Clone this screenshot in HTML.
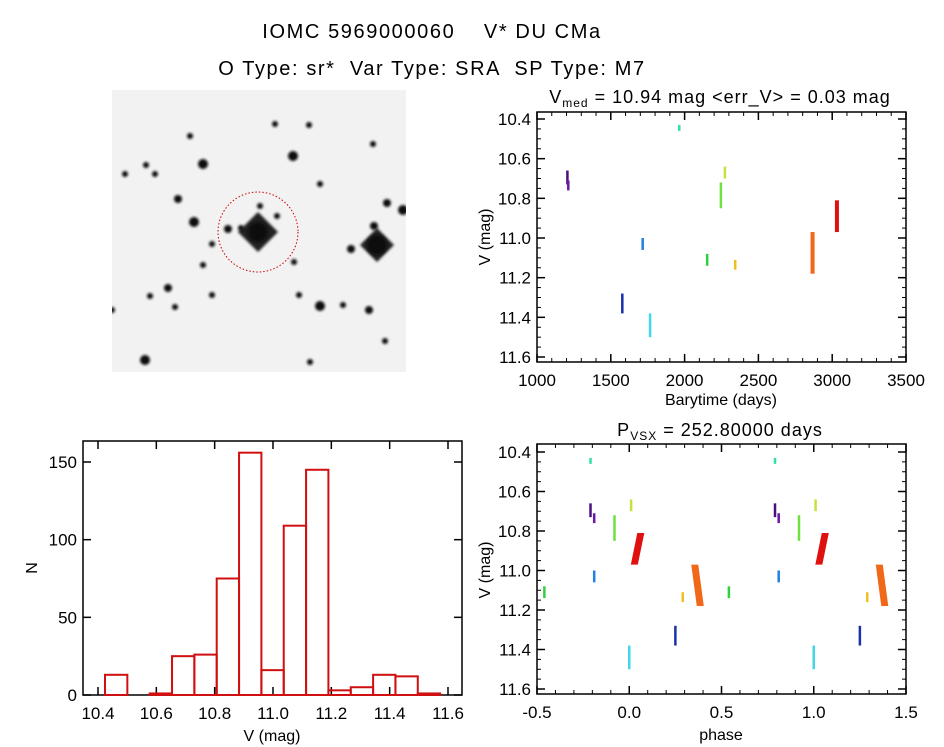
<!DOCTYPE html>
<html><head><meta charset="utf-8"><style>
body{margin:0;background:#fff;}
svg{display:block;font-family:"Liberation Sans",sans-serif;}
</style></head><body>
<svg id="s" width="944" height="747" viewBox="0 0 944 747" xmlns="http://www.w3.org/2000/svg">
<rect width="944" height="747" fill="#fff"/>
<text x="432" y="38" font-size="20" letter-spacing="1.6" text-anchor="middle" style="white-space:pre">IOMC 5969000060    V* DU CMa</text>
<text x="432" y="75" font-size="20" letter-spacing="1.6" text-anchor="middle" style="white-space:pre">O Type: sr*  Var Type: SRA  SP Type: M7</text>
<g id="img"></g>
<g id="lc"></g>
<g id="ph"></g>
<g id="hi"></g>
</svg>
<script>
// ---- data ----
const clusterTimes  = [1206,1212,1964,1716,1578,1766,2153,2246,2273,2343,2867,3032];
const clusterVmin   = [10.66,10.71,10.43,11.00,11.28,11.38,11.08,10.72,10.64,11.11,10.97,10.81];
const clusterVmax   = [10.73,10.76,10.46,11.06,11.38,11.50,11.14,10.85,10.70,11.16,11.18,10.97];
const clusterPhase  = [-0.21,-0.19,-0.21,-0.19,0.25,0.00,0.54,-0.08,0.01,0.29,0.37,0.045];
const clusterDrift  = [0,0,0,0,0,0,0,0,0,0,0.03,-0.035];
const clusterColors = ["#4a1080","#6a18a8","#30e0a8","#2080e0","#1830a8","#40d8e8","#30d040","#70e040","#c8e040","#f0c020","#f06818","#e01010"];
const lcXTicks = [1000,1500,2000,2500,3000,3500];
const vTicks   = [10.4,10.6,10.8,11.0,11.2,11.4,11.6];
const phTicks  = [-0.5,0.0,0.5,1.0,1.5];
const histStart = 10.424, histWidth = 0.0766;
const histCounts = [13,0,1,25,26,75,156,16,109,145,3,5,13,12,1];
const histXTicks = [10.4,10.6,10.8,11.0,11.2,11.4,11.6];
const histYTicks = [0,50,100,150];

const NS="http://www.w3.org/2000/svg";
function el(p,t,a){const e=document.createElementNS(NS,t);for(const k in a)e.setAttribute(k,a[k]);p.appendChild(e);return e;}

function frame(g,x0,y0,x1,y1,xs,ys,xt,yt,xminor,yminor,xfmt,yfmt){
  const f=el(g,'rect',{x:x0,y:y0,width:x1-x0,height:y1-y0,fill:'none',stroke:'#000','stroke-width':1.5});
  
  
  xt.forEach(v=>{const x=xs(v);
    el(g,'line',{x1:x,x2:x,y1:y1,y2:y1-8,stroke:'#000','stroke-width':1.5});
    el(g,'line',{x1:x,x2:x,y1:y0,y2:y0+8,stroke:'#000','stroke-width':1.5});
    const t=el(g,'text',{x:x,y:y1+24,'font-size':17,'text-anchor':'middle'});t.textContent=xfmt(v);
    
    });
  xminor.forEach(v=>{const x=xs(v);
    el(g,'line',{x1:x,x2:x,y1:y1,y2:y1-4,stroke:'#000'});el(g,'line',{x1:x,x2:x,y1:y0,y2:y0+4,stroke:'#000'});});
  yt.forEach(v=>{const y=ys(v);
    el(g,'line',{x1:x0,x2:x0+8,y1:y,y2:y,stroke:'#000','stroke-width':1.5});
    el(g,'line',{x1:x1,x2:x1-8,y1:y,y2:y,stroke:'#000','stroke-width':1.5});
    const t=el(g,'text',{x:x0-6,y:y+6,'font-size':17,'text-anchor':'end'});t.textContent=yfmt(v);
    
    });
  yminor.forEach(v=>{const y=ys(v);
    el(g,'line',{x1:x0,x2:x0+4,y1:y,y2:y,stroke:'#000'});el(g,'line',{x1:x1,x2:x1-4,y1:y,y2:y,stroke:'#000'});});
}
function rng(a,b,s){const r=[];for(let v=a;v<=b+1e-9;v+=s)r.push(+v.toFixed(4));return r;}

// ---- sky image ----
(function(){
  const g=document.getElementById('img');
  const defs=el(g,'defs',{});
  const fl=el(defs,'filter',{id:'bl',x:'-50%',y:'-50%',width:'200%',height:'200%'});
  el(fl,'feGaussianBlur',{stdDeviation:1.2});
  const cp=el(defs,'clipPath',{id:'cp'});el(cp,'rect',{x:112,y:90,width:294,height:282});
  el(g,'rect',{x:112,y:90,width:294,height:282,fill:'#f2f2f2'});
  const gg=el(g,'g',{'clip-path':'url(#cp)'});
  const stars=[[203,164,5],[293,156,5],[228,229,4],[258,232,10],[377,245,10],[194,222,5],[178,199,4],[146,165,3],[155,174,3],[212,244,3],[168,288,4],[150,296,3],[175,307,3],[203,265,3],[260,206,3],[277,216,3],[241,228,3],[294,262,3],[374,226,4],[351,249,4],[320,306,5],[343,305,3],[369,310,4],[387,203,4],[403,210,5],[309,125,3],[275,124,3],[145,360,5],[310,362,3],[385,341,3],[320,184,3],[373,144,3],[190,136,3],[112,310,3],[212,295,3],[125,174,3],[299,295,3]];
  el(gg,'line',{x1:180,x2:320,y1:232,y2:232,stroke:'#999','stroke-width':2,filter:'url(#bl)'});
  el(gg,'line',{x1:258,x2:258,y1:175,y2:290,stroke:'#999','stroke-width':2,filter:'url(#bl)'});
  el(gg,'line',{x1:330,x2:406,y1:245,y2:245,stroke:'#999','stroke-width':2,filter:'url(#bl)'});
  el(gg,'line',{x1:377,x2:377,y1:200,y2:372,stroke:'#aaa','stroke-width':2,filter:'url(#bl)'});
  el(gg,'path',{d:'M238 232 L258 212 L278 232 L258 252Z',fill:'#222',filter:'url(#bl)'});
  el(gg,'path',{d:'M360 245 L377 228 L394 245 L377 262Z',fill:'#222',filter:'url(#bl)'});
  stars.forEach(s=>el(gg,'circle',{cx:s[0],cy:s[1],r:s[2],fill:'#111',filter:'url(#bl)'}));
  const c=el(g,'circle',{cx:258,cy:232,r:40,fill:'none',stroke:'#c00','stroke-width':1,'stroke-dasharray':'1.5,2'});
  
  
})();

// ---- light curve ----
(function(){
  const g=document.getElementById('lc');
  const x0=537,x1=906,y0=112,y1=362;
  const xs=v=>x0+(v-1000)/2500*(x1-x0);
  const ys=v=>119+(v-10.4)/1.2*(357-119);
  frame(g,x0,y0,x1,y1,xs,ys,lcXTicks,vTicks,rng(1100,3400,100),rng(10.45,11.55,0.05),v=>String(v),v=>v.toFixed(1));
  clusterTimes.forEach((t,i)=>{
    const w=(i>=10)?4:2.5;
    const r=el(g,'rect',{x:xs(t)-w/2,y:ys(clusterVmin[i]),width:w,height:ys(clusterVmax[i])-ys(clusterVmin[i]),fill:clusterColors[i]});
    
    
  });
  let t=el(g,'text',{x:720,y:103,'font-size':18,'letter-spacing':1,'text-anchor':'middle'});
  t.innerHTML='V<tspan font-size="12" dy="4">med</tspan><tspan dy="-4"> = 10.94 mag &lt;err_V&gt; = 0.03 mag</tspan>';
  
  
  t=el(g,'text',{x:721,y:405,'font-size':16,'text-anchor':'middle'});t.textContent='Barytime (days)';
  
  
  t=el(g,'text',{x:0,y:0,'font-size':16,'text-anchor':'middle',transform:'translate(490,237) rotate(-90)'});t.textContent='V (mag)';
  
  
})();

// ---- phase plot ----
(function(){
  const g=document.getElementById('ph');
  const x0=537,x1=906,y0=444,y1=694;
  const xs=v=>x0+(v+0.5)/2*(x1-x0);
  const ys=v=>452+(v-10.4)/1.2*(689-452);
  frame(g,x0,y0,x1,y1,xs,ys,phTicks,vTicks,rng(-0.4,1.4,0.1),rng(10.45,11.55,0.05),v=>v.toFixed(1),v=>v.toFixed(1));
  clusterPhase.forEach((p,i)=>{
    [p-1,p,p+1,p+2].forEach(q=>{
      if(q<-0.5||q>1.5) return;
      const d=clusterDrift[i];
      const w=(i>=10)?7:2.5;
      const xa=xs(q-d/2), xb=xs(q+d/2);
      const ya=ys(clusterVmin[i]), yb=ys(clusterVmax[i]);
      const r=el(g,'polygon',{points:`${xa-w/2},${ya} ${xa+w/2},${ya} ${xb+w/2},${yb} ${xb-w/2},${yb}`,fill:clusterColors[i]});
      
      
    });
  });
  let t=el(g,'text',{x:720,y:436,'font-size':18,'letter-spacing':1,'text-anchor':'middle'});
  t.innerHTML='P<tspan font-size="12" dy="4">VSX</tspan><tspan dy="-4"> = 252.80000 days</tspan>';
  
  
  t=el(g,'text',{x:721,y:740,'font-size':16,'text-anchor':'middle'});t.textContent='phase';
  
  
  t=el(g,'text',{x:0,y:0,'font-size':16,'text-anchor':'middle',transform:'translate(490,570) rotate(-90)'});t.textContent='V (mag)';
  
  
})();

// ---- histogram ----
(function(){
  const g=document.getElementById('hi');
  const x0=83,x1=462,y0=441,y1=695;
  const xs=v=>98+(v-10.4)/1.2*(448-98);
  const ys=v=>695-v/150*(695-462);
  frame(g,x0,y0,x1,y1,xs,ys,histXTicks,histYTicks,[],[],v=>v.toFixed(1),v=>String(v));
  histCounts.forEach((c,i)=>{
    const a=xs(histStart+i*histWidth),b=xs(histStart+(i+1)*histWidth);
    const r=el(g,'rect',{x:a,y:ys(c),width:b-a,height:ys(0)-ys(c),fill:'none',stroke:'#d01010','stroke-width':2});
    
    
  });
  let t=el(g,'text',{x:272,y:741,'font-size':16,'text-anchor':'middle'});t.textContent='V (mag)';
  
  
  t=el(g,'text',{x:0,y:0,'font-size':16,'text-anchor':'middle',transform:'translate(37,568) rotate(-90)'});t.textContent='N';
  
  
})();
</script>
</body></html>
